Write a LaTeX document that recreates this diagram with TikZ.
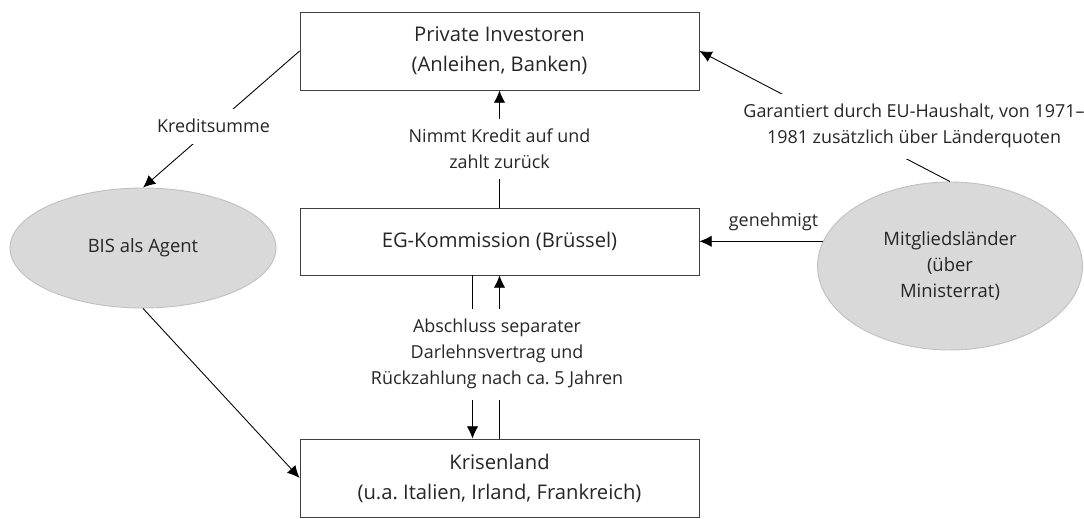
\documentclass[tikz,border=0pt]{standalone}
\usepackage{fontspec}
\setmainfont{Open Sans}
\usetikzlibrary{shapes.geometric,arrows.meta}
\tikzset{
  box/.style={draw=black!75, minimum width=7.98cm, minimum height=1.56cm,
    align=center, font=\fontsize{11.5}{17}\selectfont},
  agent/.style={ellipse, draw=black!25, fill=black!15, align=center,
    inner sep=0pt, font=\fontsize{10.5}{15}\selectfont},
  lbl/.style={fill=white, align=center, inner sep=6pt,
    font=\fontsize{10.2}{14.8}\selectfont},
}
\begin{document}
\begin{tikzpicture}[>={Latex[length=7pt,width=6.5pt]}, line width=0.5pt, x=0.02cm, y=-0.02cm, text=black!85]
    \useasboundingbox (0,0) rectangle (1084,518);
    % boxes
    \node[box] (inv) at (499.5,51) {Private Investoren\\(Anleihen, Banken)};
    \node[box, minimum height=1.34cm] (eg) at (499.5,241.5) {EG-Kommission (Brüssel)};
    \node[box] (kris) at (499.5,478) {Krisenland\\(u.a.\ Italien, Irland, Frankreich)};
    % ellipses
    \node[agent, minimum width=5.32cm, minimum height=2.4cm] (bis) at (143,248) {BIS als Agent};
    \node[agent, minimum width=5.3cm, minimum height=3.36cm] (mit) at (950,266) {Mitgliedsländer\\(über\\Ministerrat)};
    % connectors
    \draw[->] (inv.west) -- node[lbl, pos=0.55] (kred) {Kreditsumme} (bis.north);
    \draw[->] (eg.north) -- node[lbl] (nimmt) {Nimmt Kredit auf und\\zahlt zurück} (inv.south);
    \draw[->] ([xshift=-0.54cm]eg.south) -- ([xshift=-0.54cm]kris.north);
    \draw[->] (kris.north) -- (eg.south);
    \node[lbl] (absch) at (497,354) {Abschluss separater\\Darlehnsvertrag und\\Rückzahlung nach ca.\ 5 Jahren};
    \draw[->] (mit.169) -- node[above=6pt, pos=0.4, inner sep=0pt, font=\fontsize{10.2}{14.8}\selectfont] (gen) {genehmigt} (mit.169 -| eg.east);
    \draw[->] (mit.north) -- (inv.east);
    \node[lbl] (garant) at (914,126) {Garantiert durch EU-Haushalt, von 1971–\\1981 zusätzlich über Länderquoten};
    \draw[->] (bis.south) -- (kris.west);
\end{tikzpicture}
\end{document}
